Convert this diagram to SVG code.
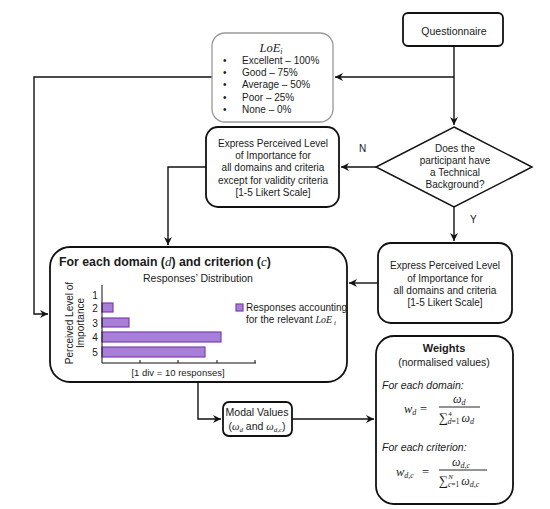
<svg xmlns="http://www.w3.org/2000/svg" width="550" height="509" viewBox="0 0 550 509">
<style>
text{font-family:"Liberation Sans",Arial,sans-serif;fill:#1a1a1a}
.box{fill:#fff;stroke:#111;stroke-width:1.8}
.gbox{fill:#fff;stroke:#999;stroke-width:1.3}
.t{font-size:10px;text-anchor:middle}
.m{font-family:"Liberation Serif","Times New Roman",serif;font-style:italic}
.ln{fill:none;stroke:#111;stroke-width:1.4}
.bar{fill:#a77fd6;stroke:#7d3fb3;stroke-width:1.2}
.ax{fill:none;stroke:#111;stroke-width:1}
</style>
<defs>
<marker id="ah" markerWidth="10" markerHeight="10" refX="8" refY="4" orient="auto" markerUnits="userSpaceOnUse">
<path d="M0,0 L8,4 L0,8 L2.5,4 z" fill="#111"/>
</marker>
</defs>
<rect width="550" height="509" fill="#fff"/>

<g id="connectors">
<path class="ln" d="M454,46 V125" marker-end="url(#ah)"/>
<path class="ln" d="M454,77 H335" marker-end="url(#ah)"/>
<path class="ln" d="M212,77 H34 V314 H48" marker-end="url(#ah)"/>
<path class="ln" d="M376,167 H341" marker-end="url(#ah)"/>
<path class="ln" d="M206,167 H168 V245" marker-end="url(#ah)"/>
<path class="ln" d="M454,207 V241" marker-end="url(#ah)"/>
<path class="ln" d="M378,283 H349" marker-end="url(#ah)"/>
<path class="ln" d="M198,382 V419 H221" marker-end="url(#ah)"/>
<path class="ln" d="M292,419 H374" marker-end="url(#ah)"/>
<text x="359" y="152" style="font-size:10px">N</text>
<text x="470" y="223" style="font-size:10px">Y</text>
</g>

<g id="questionnaire">
<rect class="box" x="403" y="13" width="100" height="33" rx="5"/>
<text class="t" x="454" y="35" style="font-size:10.5px">Questionnaire</text>
</g>

<g id="loe">
<rect class="gbox" x="212" y="33" width="121" height="89" rx="13"/>
<text class="m" x="271" y="52" text-anchor="middle" style="font-size:12.5px">LoE<tspan style="font-size:8px" dy="2">i</tspan></text>
<g style="font-size:10px">
<text x="223" y="64">•</text><text x="242" y="64">Excellent – 100%</text>
<text x="223" y="76">•</text><text x="242" y="76">Good – 75%</text>
<text x="223" y="88">•</text><text x="242" y="88">Average – 50%</text>
<text x="223" y="101">•</text><text x="242" y="101">Poor – 25%</text>
<text x="223" y="113">•</text><text x="242" y="113">None – 0%</text>
</g>
</g>

<g id="decision">
<polygon points="454,127 532,167 454,207 376,167" fill="#fff" stroke="#111" stroke-width="1.5"/>
<text class="t" x="455" y="152">Does the</text>
<text class="t" x="455" y="164">participant have</text>
<text class="t" x="455" y="176">a Technical</text>
<text class="t" x="455" y="188">Background?</text>
</g>

<g id="express-no">
<rect class="box" x="206" y="127" width="133" height="80" rx="12"/>
<text class="t" x="273" y="147">Express Perceived Level</text>
<text class="t" x="273" y="159">of Importance for</text>
<text class="t" x="273" y="171">all domains and criteria</text>
<text class="t" x="273" y="184">except for validity criteria</text>
<text class="t" x="273" y="196">[1-5 Likert Scale]</text>
</g>

<g id="express-yes">
<rect class="box" x="378" y="243" width="134" height="80" rx="13"/>
<text class="t" x="445" y="269">Express Perceived Level</text>
<text class="t" x="445" y="282">of Importance for</text>
<text class="t" x="445" y="294">all domains and criteria</text>
<text class="t" x="445" y="306">[1-5 Likert Scale]</text>
</g>

<g id="distribution">
<rect class="box" x="50" y="247" width="297" height="135" rx="20"/>
<text x="59" y="266" style="font-size:12.3px;font-weight:bold">For each domain (<tspan class="m" style="font-weight:normal;font-size:13px">d</tspan>) and criterion (<tspan class="m" style="font-weight:normal;font-size:13px">c</tspan>)</text>
<text class="t" x="198" y="282" style="font-size:10.5px">Responses’ Distribution</text>
<g transform="translate(73,323) rotate(-90)">
<text class="t" x="0" y="0">Perceived Level of</text>
<text class="t" x="0" y="11">Importance</text>
</g>
<g class="t">
<text x="95" y="299">1</text>
<text x="95" y="312">2</text>
<text x="95" y="327">3</text>
<text x="95" y="341">4</text>
<text x="95" y="356">5</text>
</g>
<rect class="bar" x="102" y="303" width="11" height="9"/>
<rect class="bar" x="102" y="318" width="27" height="9"/>
<rect class="bar" x="102" y="332" width="119" height="10"/>
<rect class="bar" x="102" y="347" width="103" height="10"/>
<path class="ax" d="M102,285 V363 H256 M140,363 V360 M178,363 V360 M217,363 V360 M255,363 V360"/>
<text class="t" x="178" y="376" style="font-size:9.5px">[1 div = 10 responses]</text>
<rect class="bar" x="236" y="304" width="7" height="7"/>
<text x="246" y="311" style="font-size:10px">Responses accounting</text>
<text x="246" y="323" style="font-size:10px">for the relevant <tspan class="m">LoE</tspan><tspan class="m" style="font-size:7px" dy="2"> i</tspan></text>
</g>

<g id="modal">
<rect class="box" x="223" y="402" width="69" height="34" rx="6"/>
<text class="t" x="257" y="416" style="font-size:10.5px">Modal Values</text>
<text class="t" x="257" y="430" style="font-size:10.5px">(<tspan class="m">ω</tspan><tspan class="m" style="font-size:7px" dy="1.5">d</tspan><tspan dy="-1.5"> and </tspan><tspan class="m">ω</tspan><tspan class="m" style="font-size:7px" dy="1.5">d,c</tspan><tspan dy="-1.5">)</tspan></text>
</g>

<g id="weights">
<rect class="box" x="376" y="336" width="137" height="168" rx="18"/>
<text class="t" x="444" y="352" style="font-size:11px;font-weight:bold">Weights</text>
<text class="t" x="444" y="366" style="font-size:10.5px">(normalised values)</text>
<text x="382" y="389" style="font-size:10.5px;font-style:italic">For each domain:</text>
<text class="m" x="404" y="413" style="font-size:12.5px">w<tspan style="font-size:8px" dy="2">d</tspan></text>
<text x="420" y="413" style="font-size:12.5px;font-family:'Liberation Serif',serif">=</text>
<line x1="439" y1="407" x2="480" y2="407" stroke="#111" stroke-width="0.9"/>
<text class="m" x="453" y="403" style="font-size:12px">ω<tspan style="font-size:8px" dy="2">d</tspan></text>
<text x="439" y="422" style="font-size:13px;font-family:'Liberation Serif',serif">∑<tspan style="font-size:7px" dy="-6">4</tspan><tspan class="m" style="font-size:7.5px" dx="-4" dy="8">d</tspan><tspan style="font-size:7.5px">=1</tspan><tspan class="m" style="font-size:12px" dx="2" dy="-2">ω</tspan><tspan class="m" style="font-size:8px" dy="2">d</tspan></text>
<text x="382" y="451" style="font-size:10.5px;font-style:italic">For each criterion:</text>
<text class="m" x="396" y="476" style="font-size:12.5px">w<tspan style="font-size:8px" dy="2">d,c</tspan></text>
<text x="422" y="476" style="font-size:12.5px;font-family:'Liberation Serif',serif">=</text>
<line x1="439" y1="470" x2="487" y2="470" stroke="#111" stroke-width="0.9"/>
<text class="m" x="452" y="466" style="font-size:12px">ω<tspan style="font-size:8px" dy="2">d,c</tspan></text>
<text x="439" y="485" style="font-size:13px;font-family:'Liberation Serif',serif">∑<tspan class="m" style="font-size:7px" dy="-6">N</tspan><tspan class="m" style="font-size:7.5px" dx="-5" dy="8">c</tspan><tspan style="font-size:7.5px">=1</tspan><tspan class="m" style="font-size:12px" dx="2" dy="-2">ω</tspan><tspan class="m" style="font-size:8px" dy="2">d,c</tspan></text>
</g>
</svg>
